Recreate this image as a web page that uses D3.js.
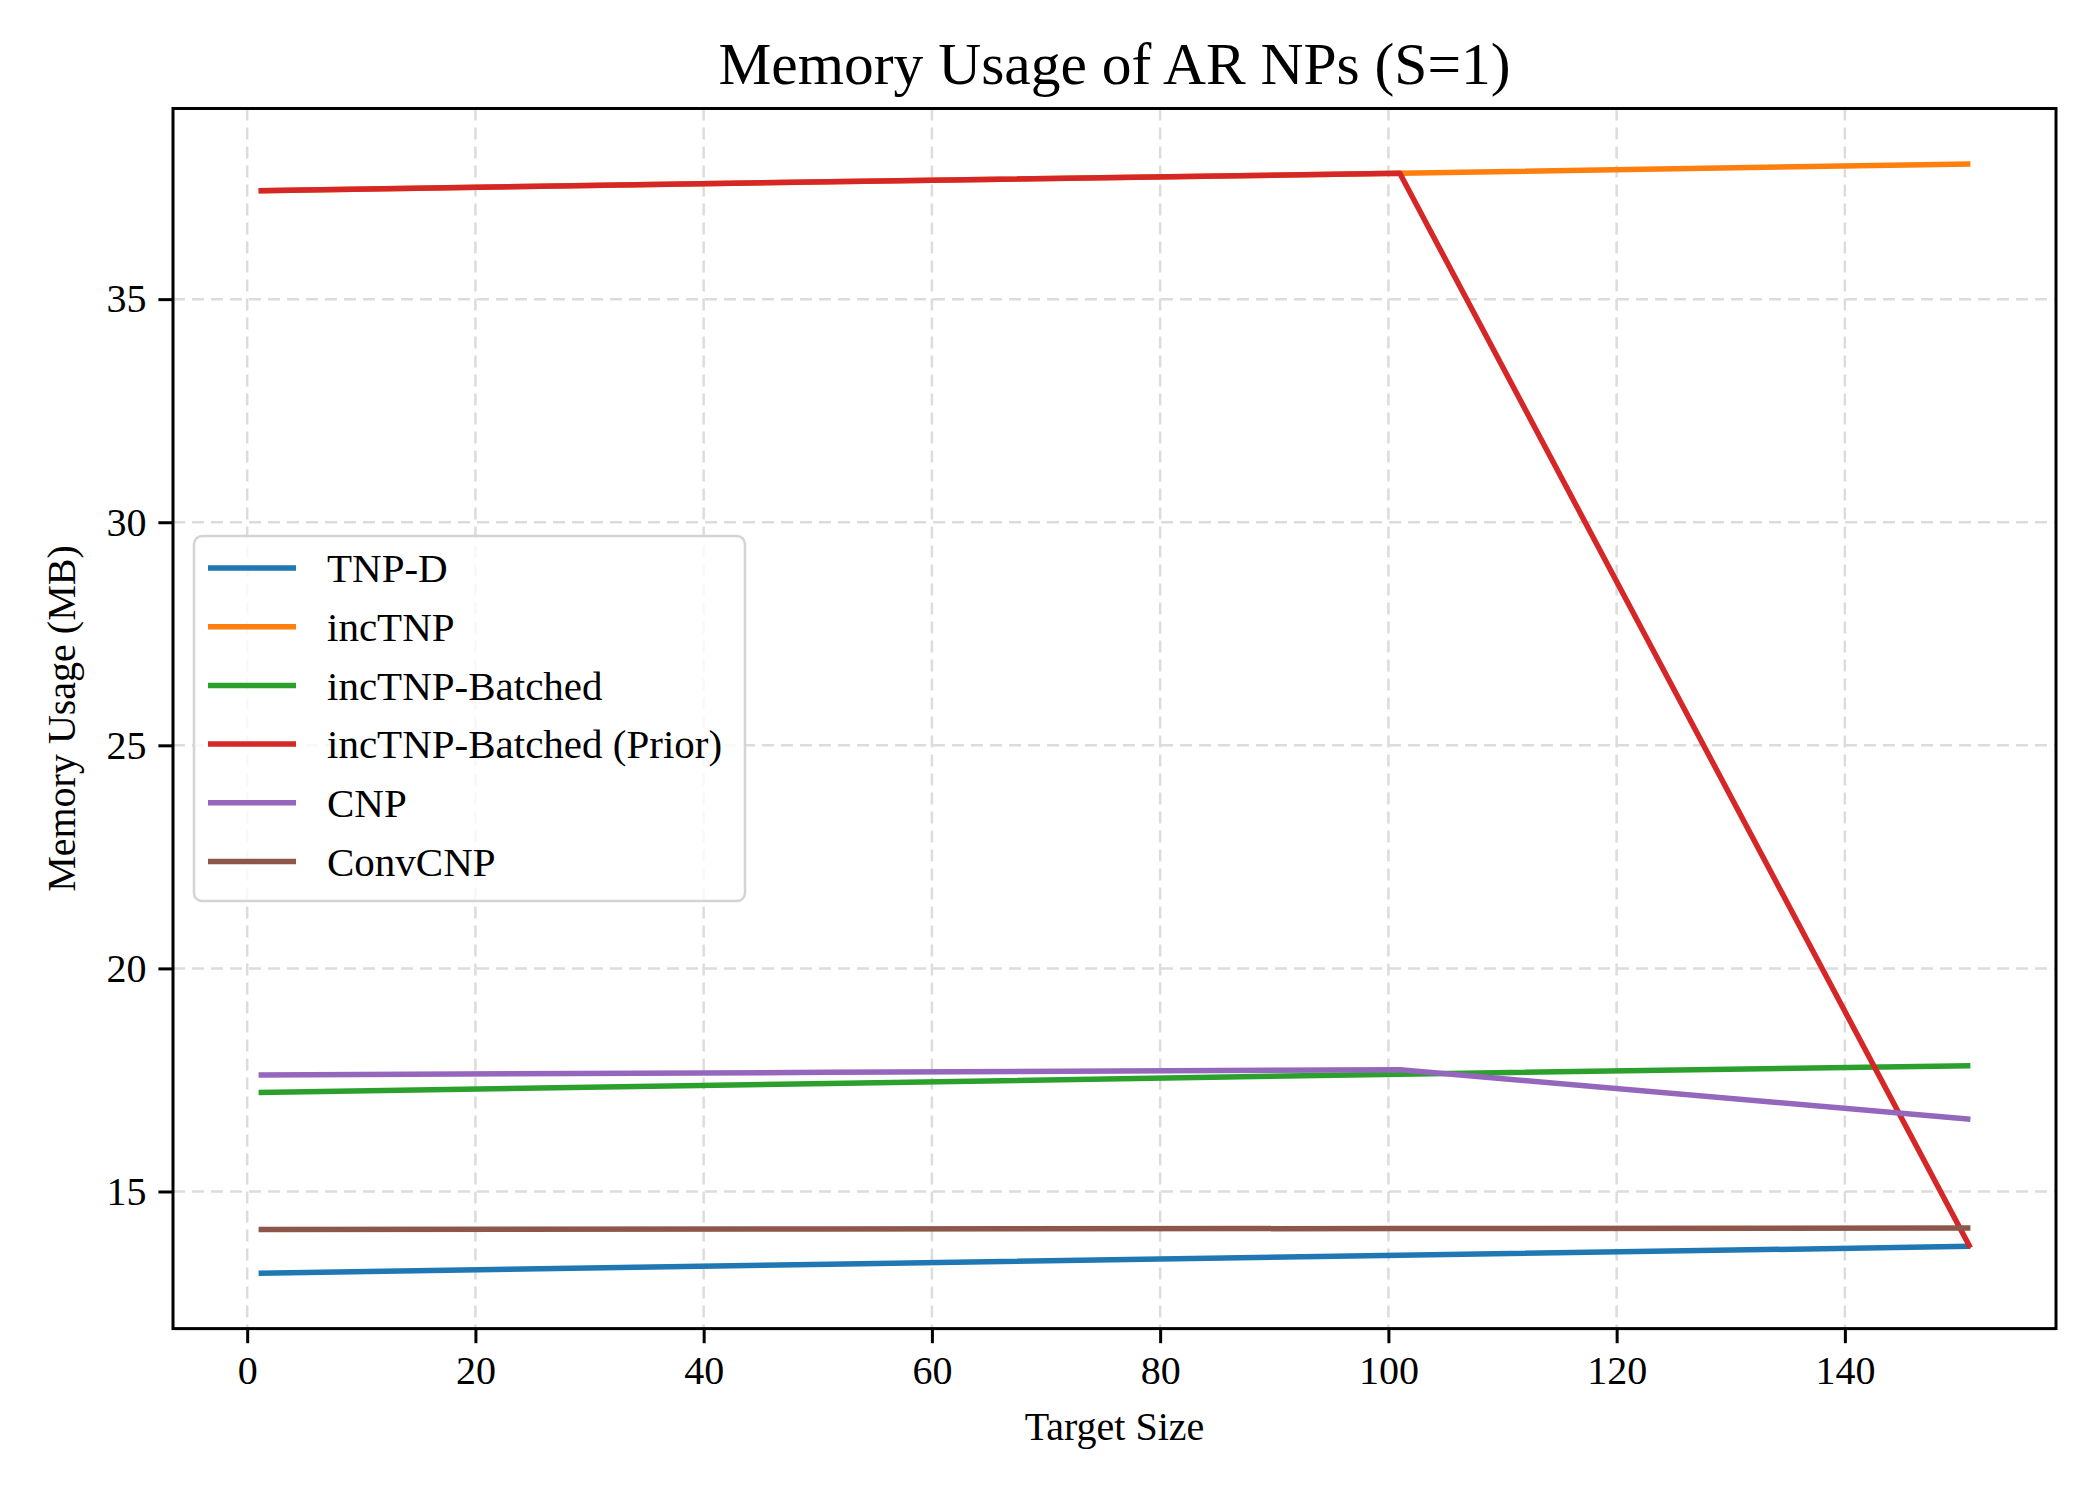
<!DOCTYPE html>
<meta charset="utf-8">
<style>
body { margin: 0; background: #fff; }
text { font-family: "Liberation Serif", "DejaVu Serif", serif; fill: #000; }
.grid line { stroke: #dcdcdc; stroke-width: 2.5; stroke-dasharray: 12,7; }
.axis path { display: none; }
.axis line { stroke: #000; stroke-width: 3; }
.axis text { font-size: 40px; }
</style>
<svg width="2100" height="1500"></svg>
<script src="https://d3js.org/d3.v7.min.js"></script>
<script>

var targetSizes = [1, 51, 101, 151];
var seriesNames = ["TNP-D", "incTNP", "incTNP-Batched", "incTNP-Batched (Prior)", "CNP", "ConvCNP"];
var tnpD = [13.17, 13.37, 13.57, 13.77];
var incTnp = [37.43, 37.63, 37.82, 38.03];
var incTnpBatched = [17.22, 17.42, 17.63, 17.82];
var incTnpBatchedPrior = [37.43, 37.63, 37.82, 13.74];
var cnp = [17.61, 17.67, 17.73, 16.62];
var convCnp = [14.15, 14.16, 14.17, 14.18];
var xTicks = [0, 20, 40, 60, 80, 100, 120, 140];
var yTicks = [15, 20, 25, 30, 35];

var colors = ["#1f77b4", "#ff7f0e", "#2ca02c", "#d62728", "#9467bd", "#8c564b"];
var values = [tnpD, incTnp, incTnpBatched, incTnpBatchedPrior, cnp, convCnp];
var series = seriesNames.map(function(name, i) {
  return {name: name, color: colors[i], points: targetSizes.map(function(x, j) { return [x, values[i][j]]; })};
});

var svg = d3.select("svg"),
    plotLeft = 173, plotRight = 2056, plotTop = 108.5, plotBottom = 1328.6;

// matplotlib-style 5% margins around the data
var xExt = d3.extent(targetSizes),
    yExt = d3.extent(d3.merge(values)),
    xPad = (xExt[1] - xExt[0]) * 0.05,
    yPad = (yExt[1] - yExt[0]) * 0.05;

var x = d3.scaleLinear().domain([xExt[0] - xPad, xExt[1] + xPad]).range([plotLeft, plotRight]);
var y = d3.scaleLinear().domain([yExt[0] - yPad, yExt[1] + yPad]).range([plotBottom, plotTop]);

// grid
var grid = svg.append("g").attr("class", "grid");
grid.selectAll("line.v").data(xTicks).enter().append("line")
    .attr("class", "v")
    .attr("x1", function(d) { return x(d); }).attr("x2", function(d) { return x(d); })
    .attr("y1", plotTop).attr("y2", plotBottom);
grid.selectAll("line.h").data(yTicks).enter().append("line")
    .attr("class", "h")
    .attr("y1", function(d) { return y(d); }).attr("y2", function(d) { return y(d); })
    .attr("x1", plotLeft).attr("x2", plotRight);

// lines
var line = d3.line().x(function(d) { return x(d[0]); }).y(function(d) { return y(d[1]); });

svg.append("g").selectAll("path").data(series).enter().append("path")
    .attr("d", function(d) { return line(d.points); })
    .attr("fill", "none")
    .attr("stroke", function(d) { return d.color; })
    .attr("stroke-width", 5.5)
    .attr("stroke-linejoin", "round");

// axes
svg.append("g").attr("class", "axis")
    .attr("transform", "translate(0," + plotBottom + ")")
    .call(d3.axisBottom(x).tickValues(xTicks).tickSize(14.6).tickPadding(12).tickFormat(d3.format("d")));

svg.append("g").attr("class", "axis")
    .attr("transform", "translate(" + plotLeft + ",0)")
    .call(d3.axisLeft(y).tickValues(yTicks).tickSize(14.6).tickPadding(12).tickFormat(d3.format("d")));

// frame
svg.append("rect")
    .attr("x", plotLeft).attr("y", plotTop)
    .attr("width", plotRight - plotLeft).attr("height", plotBottom - plotTop)
    .attr("fill", "none").attr("stroke", "#000").attr("stroke-width", 3);

// labels
svg.append("text")
    .attr("x", (plotLeft + plotRight) / 2).attr("y", 84)
    .attr("text-anchor", "middle").style("font-size", "59.5px")
    .text("Memory Usage of AR NPs (S=1)");

svg.append("text")
    .attr("x", (plotLeft + plotRight) / 2).attr("y", 1440)
    .attr("text-anchor", "middle").style("font-size", "40px")
    .text("Target Size");

svg.append("text")
    .attr("transform", "translate(75," + (plotTop + plotBottom) / 2 + ") rotate(-90)")
    .attr("text-anchor", "middle").style("font-size", "40px")
    .text("Memory Usage (MB)");

// legend
var legend = svg.append("g").attr("transform", "translate(194,536)");
legend.append("rect")
    .attr("width", 551).attr("height", 365).attr("rx", 8)
    .attr("fill", "#fff").attr("fill-opacity", 0.8)
    .attr("stroke", "#d4d4d4").attr("stroke-width", 2.5);

var item = legend.selectAll("g.item").data(series).enter().append("g")
    .attr("class", "item")
    .attr("transform", function(d, i) { return "translate(0," + (32 + i * 58.7) + ")"; });

item.append("line")
    .attr("x1", 14).attr("x2", 102)
    .attr("stroke", function(d) { return d.color; })
    .attr("stroke-width", 5.5);

item.append("text")
    .attr("x", 133).attr("dy", "0.35em")
    .style("font-size", "41px")
    .text(function(d) { return d.name; });

</script>
